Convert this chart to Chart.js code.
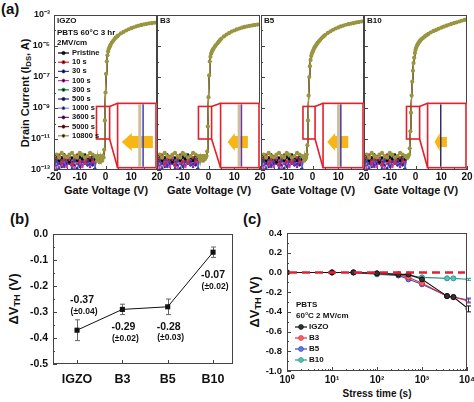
<!DOCTYPE html>
<html>
<head>
<meta charset="utf-8">
<script src="https://cdn.jsdelivr.net/npm/chart.js@4.4.1/dist/chart.umd.min.js"></script>
<style>
  body { margin: 0; background: #fff; }
  #fig { position: relative; width: 474px; height: 402px; overflow: hidden;
         font-family: "Liberation Sans", Arial, sans-serif; font-weight: bold; color: #111; }
  #fig canvas { position: absolute; }
  .t { position: absolute; white-space: nowrap; line-height: 1; }
  .c { transform: translate(-50%, -50%); }
  .r { transform: translate(-50%, -50%) rotate(-90deg); }
  sub { font-size: 70%; vertical-align: -0.3em; line-height: 0; }
</style>
</head>
<body>
<div id="fig">
  <div class="t" style="left:1px;top:1px;font-size:15px">(a)</div>
  <div class="t r" style="left:25px;top:93px;font-size:11px">Drain Current (I<sub>DS</sub>, A)</div>
  <div class="t c" style="left:106px;top:190px;font-size:11px">Gate Voltage (V)</div>
  <div class="t c" style="left:209px;top:190px;font-size:11px">Gate Voltage (V)</div>
  <div class="t c" style="left:313px;top:190px;font-size:11px">Gate Voltage (V)</div>
  <div class="t c" style="left:416px;top:190px;font-size:11px">Gate Voltage (V)</div>
  <div class="t" style="left:10px;top:211px;font-size:15px">(b)</div>
  <div class="t r" style="left:13px;top:299px;font-size:13px">&Delta;V<sub>TH</sub> (V)</div>
  <div class="t" style="left:243px;top:211px;font-size:15px">(c)</div>
  <div class="t r" style="left:254px;top:302px;font-size:13px">&Delta;V<sub>TH</sub> (V)</div>
  <div class="t c" style="left:377px;top:394px;font-size:10px">Stress time (s)</div>
</div>
<script>
// ---- panel (a): transfer curves, log10(I_DS) ----
const vg = [-20,-19,-18,-17,-16,-15,-14,-13,-12,-11,-10,-9,-8,-7,-6,-5,-4,
  -3.5,-3.25,-3,-2.75,-2.5,-2.25,-2,-1.75,-1.5,-1.25,-1,-0.75,-0.5,-0.25,0,0.25,0.5,0.75,1,1.25,1.5,1.75,2,
  2.5,3,3.5,4,4.5,5,
  6,7,8,9,10,11,12,13,14,15,16,17,18,19,20];
const stressLabels = ['Pristine','10 s','30 s','100 s','300 s','500 s','1000 s','3600 s','5000 s','10800 s'];
const stressColors = ['#000000','#e8202a','#2b3fb0','#d030c0','#1a8a3a','#1f2a8a','#8a8ae0','#7a2a8a','#8a1a2a','#9a9640'];
// off-state current, Vg -20 .. -4
const offNoise = [
  [-12.3,-12.1,-12.4,-12.2,-12.0,-12.3,-12.5,-12.2,-12.1,-12.4,-12.2,-12.3,-12.0,-12.2,-12.4,-12.1,-12.3],
  [-12.5,-12.2,-12.0,-12.6,-12.3,-12.1,-12.4,-12.7,-12.2,-12.0,-12.5,-12.3,-12.6,-12.1,-12.2,-12.5,-12.1],
  [-12.8,-12.4,-12.9,-12.3,-12.7,-12.2,-12.6,-12.9,-12.4,-12.3,-12.8,-12.5,-12.2,-12.7,-12.6,-12.3,-12.9],
  [-12.6,-12.9,-12.3,-12.7,-12.5,-12.8,-12.2,-12.6,-12.9,-12.5,-12.4,-12.8,-12.3,-12.6,-12.7,-12.4,-12.5],
  [-12.2,-12.4,-12.1,-12.3,-12.5,-12.2,-12.0,-12.3,-12.4,-12.2,-12.1,-12.3,-12.5,-12.2,-12.3,-12.1,-12.2],
  [-12.7,-12.3,-12.5,-12.8,-12.4,-12.6,-12.3,-12.5,-12.7,-12.9,-12.4,-12.2,-12.6,-12.5,-12.3,-12.7,-12.4],
  [-12.4,-12.6,-12.2,-12.5,-12.3,-12.7,-12.5,-12.3,-12.6,-12.4,-12.6,-12.2,-12.4,-12.7,-12.5,-12.3,-12.6],
  [-12.5,-12.7,-12.4,-12.3,-12.8,-12.5,-12.4,-12.7,-12.3,-12.6,-12.5,-12.7,-12.4,-12.3,-12.8,-12.6,-12.4],
  [-12.3,-12.5,-12.6,-12.2,-12.4,-12.3,-12.6,-12.4,-12.5,-12.3,-12.7,-12.4,-12.5,-12.4,-12.2,-12.6,-12.3],
  [-12.1,-12.0,-12.2,-11.9,-12.1,-12.2,-12.0,-11.9,-12.1,-12.2,-11.9,-12.0,-12.2,-12.1,-11.9,-12.0,-12.1]
];
// Vg -3.5 .. 20
const curveIGZO = [-12.2,-12.4,-12.1,-12.3,-12.2,-12.5,-12.1,-12.3,-12.2,-12.4,-12.1,-12.2,
  -11.7,-9.8,-8.0,-6.8,-6.0,-5.6,-5.35,-5.2,-5.1,-5.0,-4.92,
  -4.78,-4.66,-4.55,-4.46,-4.38,-4.31,
  -4.19,-4.09,-4.0,-3.92,-3.85,-3.79,-3.73,-3.68,-3.64,-3.6,-3.57,-3.54,-3.52,-3.5,-3.48];
const curveB3 = [-12.3,-12.1,-12.4,-12.2,-12.3,-12.1,-12.4,-12.2,-12.3,-12.1,-12.2,-12.1,
  -11.8,-10.2,-8.3,-6.9,-6.0,-5.7,-5.5,-5.38,-5.3,-5.22,-5.15,
  -5.03,-4.92,-4.82,-4.72,-4.62,-4.53,
  -4.38,-4.26,-4.16,-4.07,-4.0,-3.93,-3.87,-3.82,-3.77,-3.73,-3.7,-3.67,-3.64,-3.62,-3.6];
const curveB5 = [-12.2,-12.4,-12.1,-12.3,-12.2,-12.0,
  -11.4,-9.8,-8.2,-7.0,-6.3,-5.9,-5.65,-5.5,-5.4,-5.3,-5.2,-5.12,-5.05,-4.98,-4.92,-4.86,-4.8,
  -4.7,-4.6,-4.5,-4.42,-4.35,-4.28,
  -4.15,-4.05,-3.95,-3.87,-3.8,-3.74,-3.68,-3.63,-3.59,-3.55,-3.52,-3.48,-3.45,-3.42,-3.4];
const curveB10 = [-12.2,-12.1,-12.2,-12.1,
  -12.0,-11.6,-10.5,-9.3,-8.2,-7.3,-6.6,-6.1,-5.75,-5.45,-5.25,-5.12,-5.0,-4.92,-4.85,-4.78,-4.72,-4.67,-4.62,
  -4.54,-4.47,-4.4,-4.34,-4.28,-4.22,
  -4.12,-4.03,-3.96,-3.89,-3.82,-3.75,-3.69,-3.63,-3.57,-3.52,-3.47,-3.42,-3.37,-3.32,-3.27];
const devices = ['IGZO','B3','B5','B10'];

// ---- panel (b) ----
const dvth = [-0.37, -0.29, -0.28, -0.07];
const dvthErr = [0.04, 0.02, 0.03, 0.02];

// ---- panel (c) ----
const stressTime = [1, 10, 30, 100, 300, 500, 1000, 3600, 5000, 10800];
const dvIGZO = [0, 0, 0, -0.01, -0.02, -0.02, -0.07, -0.24, -0.25, -0.37];
const dvB3   = [0, 0, 0, -0.01, -0.02, -0.05, -0.11, -0.24, -0.25, -0.29];
const dvB5   = [0, 0, 0, -0.01, -0.03, -0.07, -0.12, -0.24, -0.25, -0.28];
const dvB10  = [0, 0, 0, -0.02, -0.03, -0.03, -0.05, -0.06, -0.06, -0.07];
const dvEndErr = [0.03, 0.02, 0.02, 0.01];

const FONT = '"Liberation Sans", Arial, sans-serif';
const fig = document.getElementById('fig');
const SUP = {'-':'\u207B','0':'\u2070','1':'\u00B9','2':'\u00B2','3':'\u00B3','4':'\u2074','5':'\u2075','6':'\u2076','7':'\u2077','8':'\u2078','9':'\u2079'};
const sup = n => String(n).split('').map(c => SUP[c]).join('');

function addCanvas(left, top, w, h) {
  const c = document.createElement('canvas');
  c.width = w; c.height = h;
  c.style.left = left + 'px'; c.style.top = top + 'px';
  fig.appendChild(c);
  return c;
}

// box around plot area + inward tick marks
const framePlugin = {
  id: 'frame',
  afterDatasetsDraw(chart, args, o) {
    const { ctx, chartArea: a, scales: { x, y } } = chart;
    ctx.save();
    ctx.strokeStyle = '#444';
    ctx.lineWidth = 1;
    ctx.strokeRect(Math.round(a.left) + 0.5, Math.round(a.top) + 0.5, Math.round(a.width) - 1, Math.round(a.height) - 1);
    ctx.beginPath();
    const xt = (vals, len) => (vals || []).forEach(v => {
      const px = Math.round(x.getPixelForValue(v)) + 0.5;
      ctx.moveTo(px, a.bottom); ctx.lineTo(px, a.bottom - len);
    });
    const yt = (vals, len) => (vals || []).forEach(v => {
      const py = Math.round(y.getPixelForValue(v)) + 0.5;
      ctx.moveTo(a.left, py); ctx.lineTo(a.left + len, py);
    });
    xt(o.xMajor, 4); xt(o.xMinor, 2);
    yt(o.yMajor, 4); yt(o.yMinor, 2);
    ctx.stroke();
    ctx.restore();
  }
};

// magnified inset of the subthreshold region
const insetPlugin = {
  id: 'inset',
  afterDatasetsDraw(chart, args, o) {
    if (!o.small) return;
    const { ctx, scales: { x, y } } = chart;
    const X = v => x.getPixelForValue(v), Y = v => y.getPixelForValue(v);
    const s = [X(o.small[0]), X(o.small[1]), Y(o.small[2]), Y(o.small[3])];
    const b = [X(o.big[0]), X(o.big[1]), Y(o.big[2]), Y(o.big[3])];
    ctx.save();
    ctx.fillStyle = '#fff';
    ctx.fillRect(b[0], b[2], b[1] - b[0], b[3] - b[2]);
    const ay = Y(o.arrow.y), tip = X(o.arrow.tip), neck = X(o.arrow.neck), tail = X(o.arrow.tail);
    ctx.fillStyle = '#f8b616';
    ctx.beginPath();
    ctx.moveTo(tip, ay);
    ctx.lineTo(neck, ay - o.arrow.head);
    ctx.lineTo(neck, ay - o.arrow.shaft);
    ctx.lineTo(tail, ay - o.arrow.shaft);
    ctx.lineTo(tail, ay + o.arrow.shaft);
    ctx.lineTo(neck, ay + o.arrow.shaft);
    ctx.lineTo(neck, ay + o.arrow.head);
    ctx.closePath();
    ctx.fill();
    o.lines.forEach(l => {
      ctx.strokeStyle = l.c; ctx.lineWidth = l.w;
      ctx.beginPath(); ctx.moveTo(X(l.x), b[2] + 1); ctx.lineTo(X(l.x), b[3] - 1); ctx.stroke();
    });
    ctx.strokeStyle = '#e3202b';
    ctx.lineWidth = 1.6;
    ctx.strokeRect(s[0], s[2], s[1] - s[0], s[3] - s[2]);
    ctx.strokeRect(b[0], b[2], b[1] - b[0] - 1, b[3] - b[2]);
    ctx.beginPath();
    ctx.moveTo(s[1], s[2]); ctx.lineTo(b[0], b[2]);
    ctx.moveTo(s[1], s[3]); ctx.lineTo(b[0], b[3]);
    ctx.stroke();
    ctx.restore();
  }
};

// panel titles and legends drawn inside the plot
const textPlugin = {
  id: 'inlineText',
  afterDatasetsDraw(chart, args, o) {
    const { ctx, chartArea: a } = chart;
    ctx.save();
    ctx.fillStyle = '#111';
    ctx.textBaseline = 'middle';
    (o.texts || []).forEach(t => {
      ctx.font = 'bold ' + t.size + 'px ' + FONT;
      ctx.fillText(t.s, a.left + t.dx, a.top + t.dy);
    });
    (o.items || []).forEach(it => {
      const yy = a.top + it.dy;
      ctx.strokeStyle = it.color; ctx.lineWidth = 1.2;
      ctx.beginPath(); ctx.moveTo(a.left + it.x0, yy); ctx.lineTo(a.left + it.x1, yy); ctx.stroke();
      ctx.fillStyle = it.fill || it.color;
      ctx.beginPath(); ctx.arc(a.left + (it.x0 + it.x1) / 2, yy, it.r, 0, Math.PI * 2); ctx.fill();
      if (it.fill) { ctx.strokeStyle = it.color; ctx.lineWidth = 0.8; ctx.stroke(); }
      ctx.fillStyle = '#111';
      ctx.font = 'bold ' + it.size + 'px ' + FONT;
      ctx.fillText(it.s, a.left + it.tx, yy);
    });
    ctx.restore();
  }
};

const errPlugin = {
  id: 'errbars',
  beforeDatasetsDraw(chart, args, o) {
    if (!o.sets) return;
    const { ctx, scales: { x, y } } = chart;
    ctx.save();
    ctx.lineWidth = 1;
    o.sets.forEach(es => {
      ctx.strokeStyle = es.color;
      ctx.beginPath();
      es.points.forEach(p => {
        const px = Math.round(x.getPixelForValue(p.x)) + 0.5;
        const y1 = y.getPixelForValue(p.y + p.e), y2 = y.getPixelForValue(p.y - p.e);
        ctx.moveTo(px, y1); ctx.lineTo(px, y2);
        ctx.moveTo(px - es.cap, y1); ctx.lineTo(px + es.cap, y1);
        ctx.moveTo(px - es.cap, y2); ctx.lineTo(px + es.cap, y2);
      });
      ctx.stroke();
    });
    ctx.restore();
  }
};

const baseOpts = () => ({
  responsive: false,
  animation: false,
  devicePixelRatio: 1,
  plugins: { legend: { display: false }, tooltip: { enabled: false } }
});

// ---------------- panel (a) ----------------
const curves = [curveIGZO, curveB3, curveB5, curveB10];
const plotLefts = [54, 157, 261, 364];
const plotW = 103;
const insets = [
  { small: [-3.5, 1.6, -8.9, -11.0], big: [4.7, 20, -8.7, -12.85],
    arrow: { tip: 6.3, neck: 10.2, tail: 18.4, y: -11.2, head: 9, shaft: 6 },
    lines: [{ x: 13.3, c: '#cdbf9f', w: 3 }, { x: 14.6, c: '#3d3db5', w: 1.5 }] },
  { small: [-3.9, 1.2, -8.9, -11.0], big: [4.7, 20, -8.7, -12.85],
    arrow: { tip: 7.4, neck: 10.2, tail: 15.3, y: -11.2, head: 9, shaft: 6 },
    lines: [{ x: 11.9, c: '#cdbf9f', w: 3 }, { x: 12.8, c: '#6a3a9a', w: 1.5 }] },
  { small: [-3.7, 1.0, -8.9, -11.0], big: [4.1, 20, -8.7, -12.85],
    arrow: { tip: 5.7, neck: 8.8, tail: 13.9, y: -11.2, head: 9, shaft: 6 },
    lines: [{ x: 10.1, c: '#cdbf9f', w: 3 }, { x: 11.0, c: '#4a3aa0', w: 1.5 }] },
  { small: [-3.5, 1.6, -8.9, -11.0], big: [4.7, 20, -8.7, -12.85],
    arrow: { tip: 7.4, neck: 9.4, tail: 12.2, y: -11.2, head: 9, shaft: 5 },
    lines: [{ x: 9.8, c: '#3a2a6a', w: 1.5 }] }
];

const legendA = {
  texts: [
    { s: 'IGZO', dx: 3, dy: 6, size: 8 },
    { s: 'PBTS 60\u00B0C 3 hr', dx: 3, dy: 18, size: 8 },
    { s: '2MV/cm', dx: 3, dy: 28, size: 8 }
  ],
  items: stressLabels.map((s, k) => ({ s, color: stressColors[k], dy: 38 + k * 9.2, x0: 4, x1: 15, tx: 18, r: 1.6, size: 7.5 }))
};

curves.forEach((curve, i) => {
  const padL = 26;
  const yW = i === 0 ? 54 : 0;
  const cv = addCanvas(plotLefts[i] - padL - yW, 0, padL + yW + plotW + 26, 200);
  const allY = offNoise.map(n => n.concat(curve));
  const datasets = stressLabels.map((lab, s) => ({
    label: lab,
    data: allY[s].map((v, k) => ({ x: vg[k], y: v })),
    borderColor: stressColors[s],
    backgroundColor: stressColors[s],
    borderWidth: s === 9 ? 1.4 : 0.8,
    pointRadius: s === 9 ? 2.1 : 1.3,
    pointBorderWidth: 0,
    order: s === 9 ? 0 : s + 1
  }));
  const opts = baseOpts();
  opts.layout = { padding: { left: padL, right: 26, top: 15, bottom: 0 } };
  opts.scales = {
    x: {
      type: 'linear', min: -20, max: 20,
      afterFit: sc => { sc.height = 30; },
      grid: { display: false, drawTicks: false }, border: { display: false },
      afterBuildTicks: sc => { sc.ticks = [-20, -10, 0, 10, 20].map(v => ({ value: v })); },
      ticks: { padding: 1, color: '#111', maxRotation: 0, autoSkip: false,
        font: { family: FONT, size: 10, weight: 'bold' },
        callback: v => (i > 0 && v === -20) ? '' : String(v) }
    },
    y: {
      type: 'linear', min: -13, max: -3,
      afterFit: sc => { sc.width = yW; },
      grid: { display: false, drawTicks: false }, border: { display: false },
      afterBuildTicks: sc => { sc.ticks = [-13, -11, -9, -7, -5, -3].map(v => ({ value: v })); },
      ticks: { display: i === 0, padding: 4, color: '#111', autoSkip: false,
        font: { family: FONT, size: 9, weight: 'bold' },
        callback: v => '10' + sup(v) }
    }
  };
  opts.plugins.frame = {
    xMajor: [-20, -10, 0, 10, 20], xMinor: [-15, -5, 5, 15],
    yMajor: [-13, -11, -9, -7, -5, -3], yMinor: [-12, -10, -8, -6, -4]
  };
  opts.plugins.inset = insets[i];
  opts.plugins.inlineText = i === 0 ? legendA : { texts: [{ s: devices[i], dx: 3, dy: 6, size: 8 }] };
  new Chart(cv, { type: 'line', data: { datasets }, options: opts,
    plugins: [framePlugin, insetPlugin, textPlugin] });
});

// ---------------- panel (b) ----------------
const valueLabels = {
  id: 'vlabels',
  afterDatasetsDraw(chart, args, o) {
    const { ctx, scales: { x, y } } = chart;
    ctx.save();
    ctx.fillStyle = '#111';
    ctx.textAlign = 'center';
    ctx.textBaseline = 'middle';
    dvth.forEach((v, k) => {
      const px = x.getPixelForValue(k), py = y.getPixelForValue(v);
      const [dx, dy1, dy2] = o.offsets[k];
      ctx.font = 'bold 10.5px ' + FONT;
      ctx.fillText(v.toFixed(2), px + dx, py + dy1);
      ctx.font = 'bold 8.5px ' + FONT;
      ctx.fillText('(\u00B1' + dvthErr[k].toFixed(2) + ')', px + dx + 2, py + dy2);
    });
    ctx.restore();
  }
};

(() => {
  const cv = addCanvas(0, 200, 240, 202);
  const opts = baseOpts();
  opts.layout = { padding: { left: 0, right: 7, top: 34, bottom: 0 } };
  opts.scales = {
    x: {
      type: 'linear', min: -0.53, max: 3.44,
      afterFit: sc => { sc.height = 38; },
      afterBuildTicks: sc => { sc.ticks = devices.map((d, k) => ({ value: k })); },
      grid: { display: false, drawTicks: false }, border: { display: false },
      ticks: { padding: 8, color: '#111', autoSkip: false, maxRotation: 0,
        font: { family: FONT, size: 12.5, weight: 'bold' },
        callback: v => devices[v] }
    },
    y: {
      type: 'linear', min: -0.5, max: 0,
      afterFit: sc => { sc.width = 53; },
      afterBuildTicks: sc => { sc.ticks = [0, -0.1, -0.2, -0.3, -0.4, -0.5].map(v => ({ value: v })); },
      grid: { display: false, drawTicks: false }, border: { display: false },
      ticks: { padding: 5, color: '#111', font: { family: FONT, size: 10.5, weight: 'bold' },
        callback: v => v.toFixed(1) }
    }
  };
  opts.plugins.frame = {
    xMajor: [0, 1, 2, 3],
    yMajor: [0, -0.1, -0.2, -0.3, -0.4, -0.5], yMinor: [-0.05, -0.15, -0.25, -0.35, -0.45]
  };
  opts.plugins.errbars = { sets: [{ color: '#666', cap: 2.5,
    points: dvth.map((v, k) => ({ x: k, y: v, e: dvthErr[k] })) }] };
  opts.plugins.vlabels = { offsets: [[5, -30, -19], [1, 18, 29], [1, 20, 31], [0, 23, 34]] };
  new Chart(cv, {
    type: 'line',
    data: { datasets: [{
      data: dvth.map((v, k) => ({ x: k, y: v })),
      borderColor: '#111', backgroundColor: '#111', borderWidth: 1,
      pointStyle: 'rect', pointRadius: 3.6, pointBorderWidth: 0
    }] },
    options: opts,
    plugins: [errPlugin, framePlugin, valueLabels]
  });
})();

// ---------------- panel (c) ----------------
const zeroLine = {
  id: 'zeroLine',
  afterDatasetsDraw(chart) {
    const { ctx, chartArea: a, scales: { y } } = chart;
    const py = y.getPixelForValue(0);
    ctx.save();
    ctx.strokeStyle = '#e3202b';
    ctx.lineWidth = 2.6;
    ctx.setLineDash([8, 5]);
    ctx.beginPath(); ctx.moveTo(a.left + 2, py); ctx.lineTo(a.right - 2, py); ctx.stroke();
    ctx.restore();
  }
};

(() => {
  const cv = addCanvas(240, 200, 238, 202);
  const series = [dvIGZO, dvB3, dvB5, dvB10];
  const lineC = ['#111111', '#e8303a', '#3a48c0', '#2a9a8c'];
  const fillC = ['#333333', '#f26470', '#6a78dc', '#5cc0b2'];
  const datasets = series.map((d, k) => ({
    label: devices[k],
    data: d.map((v, j) => ({ x: stressTime[j], y: v })),
    borderColor: lineC[k], backgroundColor: fillC[k], pointBorderColor: lineC[k],
    borderWidth: 1.1, pointRadius: 2.5, pointBorderWidth: 1
  }));
  const opts = baseOpts();
  opts.layout = { padding: { left: 0, right: 7, top: 33, bottom: 0 } };
  const minorX = [];
  [1, 10, 100, 1000].forEach(d => { for (let m = 2; m <= 9; m++) minorX.push(d * m); });
  opts.scales = {
    x: {
      type: 'logarithmic', min: 1, max: 10000,
      afterFit: sc => { sc.height = 31; },
      afterBuildTicks: sc => { sc.ticks = [1, 10, 100, 1000, 10000].map(v => ({ value: v })); },
      grid: { display: false, drawTicks: false }, border: { display: false },
      ticks: { padding: 3, color: '#111', autoSkip: false, maxRotation: 0,
        font: { family: FONT, size: 10, weight: 'bold' },
        callback: v => '10' + sup(Math.round(Math.log10(v))) }
    },
    y: {
      type: 'linear', min: -1, max: 0.4,
      afterFit: sc => { sc.width = 47; },
      afterBuildTicks: sc => { sc.ticks = [0.4, 0.2, 0, -0.2, -0.4, -0.6, -0.8, -1].map(v => ({ value: v })); },
      grid: { display: false, drawTicks: false }, border: { display: false },
      ticks: { padding: 5, color: '#111', font: { family: FONT, size: 9.5, weight: 'bold' },
        callback: v => v.toFixed(1) }
    }
  };
  opts.plugins.frame = {
    xMajor: [1, 10, 100, 1000, 10000], xMinor: minorX,
    yMajor: [0.4, 0.2, 0, -0.2, -0.4, -0.6, -0.8, -1], yMinor: [0.3, 0.1, -0.1, -0.3, -0.5, -0.7, -0.9]
  };
  opts.plugins.errbars = { sets: series.map((d, k) => ({ color: lineC[k], cap: 2.5,
    points: [{ x: stressTime[stressTime.length - 1], y: d[d.length - 1], e: dvEndErr[k] }] })) };
  opts.plugins.inlineText = {
    texts: [
      { s: 'PBTS', dx: 9, dy: 72, size: 8 },
      { s: '60\u00B0C 2 MV/cm', dx: 9, dy: 83, size: 8 }
    ],
    items: devices.map((s, k) => ({ s, color: lineC[k], fill: fillC[k], dy: 94 + k * 11,
      x0: 8, x1: 20, tx: 22, r: 2.4, size: 8 }))
  };
  new Chart(cv, { type: 'line', data: { datasets }, options: opts,
    plugins: [errPlugin, framePlugin, zeroLine, textPlugin] });
})();
</script>
</body>
</html>
